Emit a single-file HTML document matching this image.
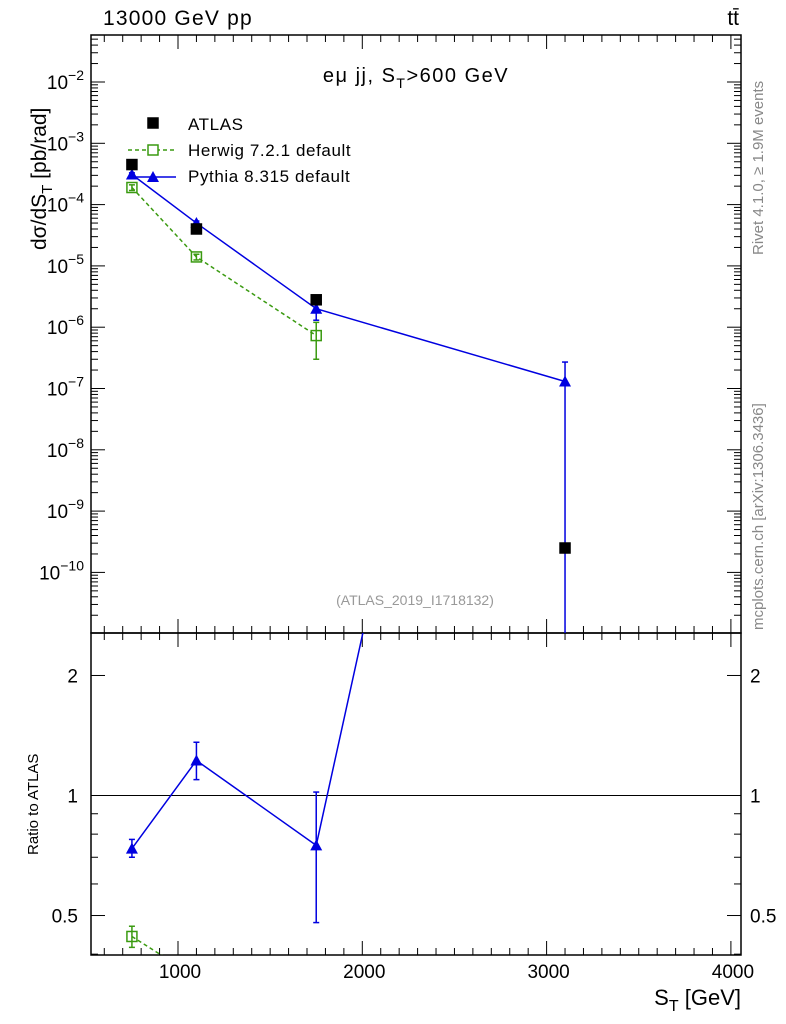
<!DOCTYPE html>
<html><head><meta charset="utf-8"><style>
body{margin:0;background:#fff}
svg{display:block;font-family:"Liberation Sans",sans-serif}
</style></head><body>
<svg id="c" width="786" height="1024" viewBox="0 0 786 1024"></svg>
<script>
const xs = [750, 1100, 1750, 3100];
const atlas = [4.5e-4, 4.0e-5, 2.8e-6, 2.5e-10];
const herwigX = [750, 1100, 1750];
const herwig = [1.9e-4, 1.4e-5, 7.3e-7];
const herwigLo = [1.7e-4, 1.25e-5, 3.0e-7];
const herwigHi = [2.1e-4, 1.55e-5, 1.2e-6];
const pythia = [3.1e-4, 5.0e-5, 2.0e-6, 1.3e-7];
const pythiaLo = [2.9e-4, 4.6e-5, 1.3e-6, 1e-12];
const pythiaHi = [3.3e-4, 5.4e-5, 2.6e-6, 2.7e-7];
const ratioP = [0.736, 1.224, 0.75, 520];
const ratioPLo = [0.70, 1.096, 0.48, 300];
const ratioPHi = [0.776, 1.36, 1.02, 1000];
const ratioH = [0.443, 0.35, 0.26];
const ratioHLo = [0.416, 0.33, 0.2];
const ratioHHi = [0.47, 0.37, 0.3];
const xTicks = [1000, 2000, 3000, 4000];
const yExp = [-2, -3, -4, -5, -6, -7, -8, -9, -10];
const rTicks = [0.5, 1, 2];

const L=91,R=741,T=35,B=633,RT=633,RB=955;
const X=v=>178+(v-1000)*0.1843;
const Y=v=>82+(-2-Math.log10(v))*61.3;
const RY=v=>795.5-Math.log10(v)*398.7;
const svg=document.getElementById('c');
const NS='http://www.w3.org/2000/svg';
function el(t,a,p){const e=document.createElementNS(NS,t);for(const k in a)e.setAttribute(k,a[k]);(p||svg).appendChild(e);return e;}
const defs=el('defs',{});
const c1=el('clipPath',{id:'cm'},defs);el('rect',{x:L,y:T,width:R-L,height:B-T},c1);
const c2=el('clipPath',{id:'cr'},defs);el('rect',{x:L,y:RT,width:R-L,height:RB-RT},c2);

let f=el('rect',{x:L,y:T,width:R-L,height:B-T,fill:'none',stroke:'#000','stroke-width':1.5});

f=el('rect',{x:L,y:RT,width:R-L,height:RB-RT,fill:'none',stroke:'#000','stroke-width':1.5});


for(let v=600;v<=4000;v+=100){const x=X(v);if(x<L||x>R)continue;const big=v%1000===0;const h=big?14:7;
 el('line',{x1:x,x2:x,y1:B,y2:B-h,stroke:'#000'});el('line',{x1:x,x2:x,y1:T,y2:T+h,stroke:'#000'});
 el('line',{x1:x,x2:x,y1:RB,y2:RB-h,stroke:'#000'});el('line',{x1:x,x2:x,y1:RT,y2:RT+h,stroke:'#000'});}
xTicks.forEach(v=>{const t=el('text',{x:X(v)+2,y:978,'font-size':19,'text-anchor':'middle'});t.textContent=v;
 });
let t=el('text',{x:741,y:1005,'font-size':22,'text-anchor':'end'});t.innerHTML='S<tspan dy="6" font-size="16">T</tspan><tspan dy="-6"> [GeV]</tspan>';


for(let e=-11;e<=-1;e++){for(let m=1;m<10;m++){const v=m*Math.pow(10,e);const y=Y(v);if(y<T||y>B)continue;const h=m===1?14:7;
 el('line',{x1:L,x2:L+h,y1:y,y2:y,stroke:'#000'});el('line',{x1:R,x2:R-h,y1:y,y2:y,stroke:'#000'});}}
yExp.forEach(e=>{const t=el('text',{x:84,y:Y(Math.pow(10,e))+7,'font-size':19,'text-anchor':'end'});
 t.innerHTML='10<tspan dy="-9" font-size="14">'+(e<0?'−':'')+Math.abs(e)+'</tspan>';
 });
t=el('text',{x:0,y:0,'font-size':21,transform:'translate(46,250) rotate(-90)'});
t.innerHTML='dσ/dS<tspan dy="6" font-size="15">T</tspan><tspan dy="-6"> [pb/rad]</tspan>';


[0.4,0.5,0.6,0.7,0.8,0.9,1,2].forEach(v=>{const y=RY(v);if(y<RT||y>RB)return;const h=(v===0.5||v===1||v===2)?14:7;
 el('line',{x1:L,x2:L+h,y1:y,y2:y,stroke:'#000'});el('line',{x1:R,x2:R-h,y1:y,y2:y,stroke:'#000'});});
rTicks.forEach(v=>{let t=el('text',{x:78,y:RY(v)+7,'font-size':19,'text-anchor':'end'});t.textContent=v;
 
 t=el('text',{x:750,y:RY(v)+7,'font-size':19});t.textContent=v;
 });
t=el('text',{x:0,y:0,'font-size':15,transform:'translate(38,855) rotate(-90)'});t.textContent='Ratio to ATLAS';

el('line',{x1:L,x2:R,y1:RY(1),y2:RY(1),stroke:'#000'});

const gm=el('g',{'clip-path':'url(#cm)'});
function series(g,xa,ya,yf,col,dash,name){const p=el('polyline',{points:xa.map((x,i)=>X(x)+','+yf(ya[i])).join(' '),fill:'none',stroke:col,'stroke-width':1.5,'stroke-dasharray':dash||'none'},g);
 }
function err(g,xa,lo,hi,yf,col){xa.forEach((x,i)=>{const a=X(x),y1=yf(lo[i]),y2=yf(hi[i]);el('line',{x1:a,x2:a,y1:y1,y2:y2,stroke:col,'stroke-width':1.5},g);
 el('line',{x1:a-3,x2:a+3,y1:y1,y2:y1,stroke:col,'stroke-width':1.5},g);el('line',{x1:a-3,x2:a+3,y1:y2,y2:y2,stroke:col,'stroke-width':1.5},g);});}
function sq(g,x,y,fill,col,name){const r=el('rect',{x:x-5,y:y-5,width:10,height:10,fill:fill,stroke:col,'stroke-width':1.5},g);}
function tri(g,x,y,name){const p=el('polygon',{points:`${x},${y-6} ${x-6},${y+5} ${x+6},${y+5}`,fill:'#0000e0'},g);}
series(gm,herwigX,herwig,Y,'#3a9a10','4,3','herwig-line');err(gm,herwigX,herwigLo,herwigHi,Y,'#3a9a10');
herwigX.forEach((x,i)=>sq(gm,X(x),Y(herwig[i]),'none','#3a9a10','herwig-point'));
series(gm,xs,pythia,Y,'#0000e0',null,'pythia-line');err(gm,xs,pythiaLo,pythiaHi,Y,'#0000e0');
xs.forEach((x,i)=>tri(gm,X(x),Y(pythia[i]),'pythia-point'));
xs.forEach((x,i)=>sq(gm,X(x),Y(atlas[i]),'#000','#000','atlas-point'));

const gr=el('g',{'clip-path':'url(#cr)'});
series(gr,herwigX,ratioH,RY,'#3a9a10','4,3','herwig-ratio-line');err(gr,herwigX,ratioHLo,ratioHHi,RY,'#3a9a10');
herwigX.forEach((x,i)=>sq(gr,X(x),RY(ratioH[i]),'none','#3a9a10','herwig-ratio-point'));
series(gr,xs,ratioP,RY,'#0000e0',null,'pythia-ratio-line');err(gr,xs,ratioPLo,ratioPHi,RY,'#0000e0');
xs.forEach((x,i)=>tri(gr,X(x),RY(ratioP[i]),'pythia-ratio-point'));

sq(svg,153,123,'#000','#000','legend-atlas-marker');
t=el('text',{x:188,y:130,'font-size':17,'letter-spacing':0.6});t.textContent='ATLAS';
el('line',{x1:128,x2:176,y1:150,y2:150,stroke:'#3a9a10','stroke-width':1.5,'stroke-dasharray':'4,3'});
sq(svg,153,150,'#fff','#3a9a10','legend-herwig-marker');
t=el('text',{x:188,y:156,'font-size':17,'letter-spacing':0.6});t.textContent='Herwig 7.2.1 default';
el('line',{x1:128,x2:176,y1:177,y2:177,stroke:'#0000e0','stroke-width':1.5});
tri(svg,153,177,'legend-pythia-marker');
t=el('text',{x:188,y:182,'font-size':17,'letter-spacing':0.6});t.textContent='Pythia 8.315 default';

t=el('text',{x:416,y:82,'font-size':20,'text-anchor':'middle','letter-spacing':1.5});t.innerHTML='eμ jj, S<tspan dy="6" font-size="14">T</tspan><tspan dy="-6">&gt;600 GeV</tspan>';

t=el('text',{x:415,y:605,'font-size':14,'text-anchor':'middle',fill:'#999'});t.textContent='(ATLAS_2019_I1718132)';

t=el('text',{x:103,y:25,'font-size':21,'letter-spacing':1.2});t.textContent='13000 GeV pp';
t=el('text',{x:739,y:25,'font-size':21,'text-anchor':'end'});t.textContent='tt̄';
t=el('text',{x:0,y:0,'font-size':15,fill:'#888',transform:'translate(763,255) rotate(-90)'});t.textContent='Rivet 4.1.0, ≥ 1.9M events';

t=el('text',{x:0,y:0,'font-size':15,fill:'#888',transform:'translate(763,630) rotate(-90)'});t.textContent='mcplots.cern.ch [arXiv:1306.3436]';

</script>
</body></html>
